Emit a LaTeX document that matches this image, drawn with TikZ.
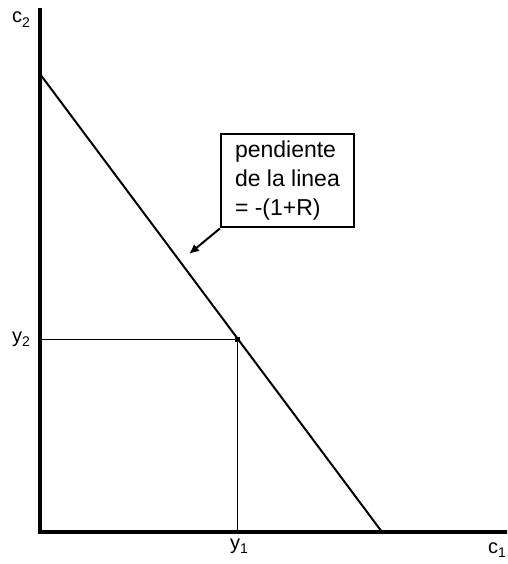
\documentclass[tikz,border=0pt]{standalone}
\usepackage{fontspec}
\setmainfont{Liberation Sans}
\usetikzlibrary{arrows.meta}
\newcommand{\lbl}[2]{{\fontsize{20}{22}\selectfont #1}\raisebox{-4.5pt}{\fontsize{14}{15}\selectfont #2}}
\tikzset{
  axis/.style={line width=4pt},
  mainline/.style={line width=2pt},
  guide/.style={line width=1pt},
  axlabel/.style={inner sep=0pt, anchor=base west},
  notebox/.style={draw, line width=2pt, fill=white, align=left, inner xsep=14pt, inner ysep=7pt,
    font=\fontsize{23}{29}\selectfont},
  pointer/.style={line width=2pt, -{Latex[length=10pt,width=9pt]}}
}
\begin{document}
\begin{tikzpicture}[x=1pt,y=-1pt]
\clip (0,0) rectangle (507,564);
\useasboundingbox (0,0) rectangle (507,564);
% axes
\coordinate (O) at (40,532);
\coordinate (Ytop) at (40,8);
\coordinate (Xend) at (510,532);
\draw[axis] (Ytop) -- (40,534) ;
\draw[axis] (38,532) -- (Xend);
% budget line
\coordinate (A) at (40,74);
\coordinate (B) at (382,532);
\draw[mainline] (A) -- (B);
% point
\coordinate (P) at (237.5,339);
\coordinate (Py) at (40,339);
\coordinate (Px) at (237.5,532);
\draw[guide] (Py) -- (P) -- (Px);
\fill (P) ++(-2.5,-2.5) rectangle ++(5,5);
% labels
\node[axlabel] (c2) at (12,23) {\lbl{c}{2}};
\node[axlabel] (y2) at (12,342) {\lbl{y}{2}};
\node[axlabel] (y1) at (230,549) {\lbl{y}{1}};
\node[axlabel] (c1) at (488,553) {\lbl{c}{1}};
% note box
\node[notebox, anchor=north west] (box) at (220,133) {pendiente\\de la linea\\= -(1+R)};
\coordinate (tip) at (189,254);
\draw[pointer] (box.south west) -- (tip);
\end{tikzpicture}
\end{document}
